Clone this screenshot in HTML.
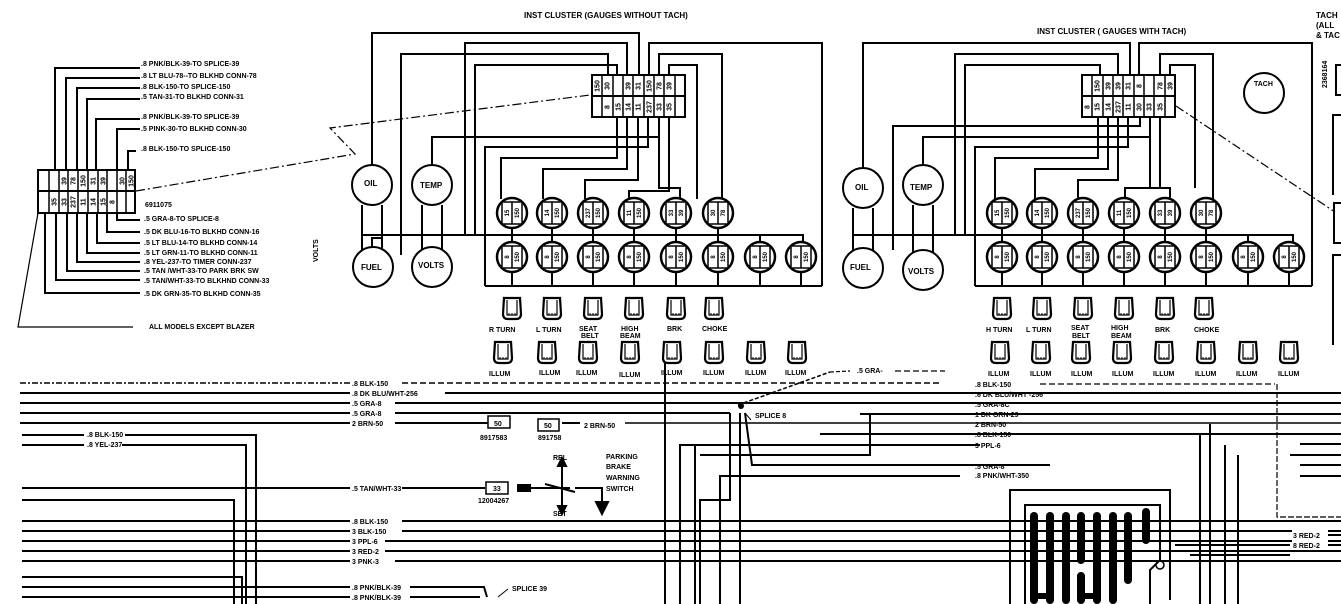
<!DOCTYPE html>
<html><head><meta charset="utf-8"><style>
html,body{margin:0;padding:0;background:#fff;}
svg{display:block;}
text{font-family:"Liberation Sans",sans-serif;font-weight:bold;fill:#000;}
.s{font-size:7px;}
.m{font-size:8px;}
.c{font-size:7px;text-anchor:middle;}
.b{font-size:6px;text-anchor:middle;}
</style></head><body>
<svg width="1341" height="604" viewBox="0 0 1341 604" xmlns="http://www.w3.org/2000/svg">
<defs>
<g id="bulb"><circle r="15" fill="#fff" stroke="#000" stroke-width="2.5"/><rect x="-10" y="-11" width="20" height="22" fill="#fff" stroke="#000" stroke-width="1.5"/><line x1="0" y1="-11" x2="0" y2="11" stroke="#000" stroke-width="1.5"/></g>
<g id="sock"><path d="M-8,-10 L8,-10 L9,6 Q9,11 4,11 L-4,11 Q-9,11 -9,6 Z" fill="#fff" stroke="#000" stroke-width="2.2"/><path d="M-5,-8 L-5,7 L5,7 L5,-8" fill="none" stroke="#000" stroke-width="1.2"/><path d="M-3,7 v-2 M0,7 v-2 M3,7 v-2" stroke="#000" stroke-width="1"/></g>
</defs>
<g fill="none" stroke="#000" stroke-width="2">

<!-- ===== LEFT CONNECTOR ===== -->
<rect x="38" y="170" width="97" height="43" stroke-width="2"/>
<line x1="38" y1="191" x2="135" y2="191"/>
<g stroke-width="1.5">
<line x1="49" y1="170" x2="49" y2="213"/><line x1="59" y1="170" x2="59" y2="213"/><line x1="68" y1="170" x2="68" y2="213"/><line x1="78" y1="170" x2="78" y2="213"/><line x1="88" y1="170" x2="88" y2="213"/><line x1="98" y1="170" x2="98" y2="213"/><line x1="107" y1="170" x2="107" y2="213"/><line x1="117" y1="170" x2="117" y2="213"/><line x1="126" y1="170" x2="126" y2="213"/>
</g>
<path d="M55,170 V68 H140"/><path d="M66,170 V78 H140"/><path d="M77,170 V88 H140"/><path d="M87,170 V99 H140"/><path d="M96,170 V119 H140"/><path d="M117,170 V129 H140"/><path d="M128,170 V151 H136"/>
<path d="M117,213 V220 H140"/><path d="M107,213 V232 H140"/><path d="M97,213 V243 H140"/><path d="M87,213 V253 H140"/><path d="M77,213 V262 H140"/><path d="M67,213 V271 H140"/><path d="M56,213 V280 H140"/><path d="M45,213 V293 H140"/>
<path d="M38,213 L18,327 H133" stroke-width="1.2"/>
<path d="M136,191 L355,154 L330,128 L590,95" stroke-width="1.2" stroke-dasharray="9,3,2,3"/>

<!-- ===== CLUSTER 1 ===== -->
<rect x="592" y="75" width="93" height="42"/>
<line x1="592" y1="96" x2="685" y2="96"/>
<g stroke-width="1.5"><line x1="602" y1="75" x2="602" y2="117"/><line x1="613" y1="75" x2="613" y2="117"/><line x1="623" y1="75" x2="623" y2="117"/><line x1="633" y1="75" x2="633" y2="117"/><line x1="644" y1="75" x2="644" y2="117"/><line x1="654" y1="75" x2="654" y2="117"/><line x1="664" y1="75" x2="664" y2="117"/><line x1="675" y1="75" x2="675" y2="117"/></g>
<circle cx="372" cy="185" r="20"/><circle cx="432" cy="185" r="20"/><circle cx="373" cy="267" r="20"/><circle cx="432" cy="267" r="20"/>
<path d="M372,165 V33 H639 V75"/>
<path d="M465,235 V43 H627 V75"/>
<path d="M401,255 V54 H608 V75"/>
<path d="M475,235 V65 H617 V75"/>
<path d="M649,75 V43 H822 V286"/>
<path d="M659,75 V54 H722 V199"/><path d="M669,75 V65 H697 V199"/>
<path d="M432,165 V137 H659 V117"/>
<path d="M485,286 V147 H648 V117"/>
<path d="M501,199 V158 H617 V117"/>
<path d="M543,199 V169 H627 V117"/>
<path d="M585,199 V180 H638 V117"/>
<path d="M629,199 V191 H669 V117"/>
<path d="M659,117 V188 H680 V199"/>
<path d="M362,235 H803 V243"/>
<line x1="362" y1="205" x2="362" y2="250"/><line x1="382" y1="205" x2="382" y2="250"/>
<line x1="422" y1="205" x2="422" y2="250"/><line x1="442" y1="205" x2="442" y2="250"/>
<path d="M372,247 V238 H383"/>
<path d="M485,286 H822"/>
<line x1="512" y1="228" x2="512" y2="242"/><line x1="552" y1="228" x2="552" y2="242"/><line x1="593" y1="228" x2="593" y2="242"/><line x1="634" y1="228" x2="634" y2="242"/><line x1="676" y1="228" x2="676" y2="242"/><line x1="718" y1="228" x2="718" y2="242"/><line x1="760" y1="235" x2="760" y2="242"/>
<line x1="512" y1="272" x2="512" y2="286"/><line x1="552" y1="272" x2="552" y2="286"/><line x1="593" y1="272" x2="593" y2="286"/><line x1="634" y1="272" x2="634" y2="286"/><line x1="676" y1="272" x2="676" y2="286"/><line x1="718" y1="272" x2="718" y2="286"/><line x1="760" y1="272" x2="760" y2="286"/><line x1="801" y1="272" x2="801" y2="286"/>

<!-- ===== CLUSTER 2 ===== -->
<rect x="1082" y="75" width="93" height="42"/>
<line x1="1082" y1="96" x2="1175" y2="96"/>
<g stroke-width="1.5"><line x1="1092" y1="75" x2="1092" y2="117"/><line x1="1103" y1="75" x2="1103" y2="117"/><line x1="1113" y1="75" x2="1113" y2="117"/><line x1="1123" y1="75" x2="1123" y2="117"/><line x1="1134" y1="75" x2="1134" y2="117"/><line x1="1144" y1="75" x2="1144" y2="117"/><line x1="1154" y1="75" x2="1154" y2="117"/><line x1="1165" y1="75" x2="1165" y2="117"/></g>
<circle cx="863" cy="188" r="20"/><circle cx="923" cy="185" r="20"/><circle cx="863" cy="268" r="20"/><circle cx="923" cy="270" r="20"/>
<circle cx="1264" cy="93" r="20"/>
<path d="M863,168 V43 H1130 V75"/>
<path d="M955,235 V54 H1118 V75"/>
<path d="M965,235 V65 H1100 V75"/>
<path d="M1139,75 V43 H1312 V286"/>
<path d="M1160,75 V54 H1213 V199"/><path d="M1170,75 V65 H1195 V188"/>
<path d="M893,250 V126 H1140 V117"/>
<path d="M923,165 V137 H1150 V117"/>
<path d="M975,286 V147 H1128 V117"/>
<path d="M995,199 V158 H1098 V117"/>
<path d="M1035,199 V169 H1108 V117"/>
<path d="M1078,199 V180 H1118 V117"/>
<path d="M1125,199 V188 H1160 V117"/>
<path d="M1150,117 V188 H1170 V199"/>
<path d="M853,235 H1293 V243"/>
<line x1="853" y1="208" x2="853" y2="250"/><line x1="873" y1="208" x2="873" y2="250"/>
<line x1="913" y1="205" x2="913" y2="252"/><line x1="933" y1="205" x2="933" y2="252"/>
<path d="M975,286 H1312"/>
<line x1="1002" y1="228" x2="1002" y2="242"/><line x1="1042" y1="228" x2="1042" y2="242"/><line x1="1083" y1="228" x2="1083" y2="242"/><line x1="1124" y1="228" x2="1124" y2="242"/><line x1="1165" y1="228" x2="1165" y2="242"/><line x1="1206" y1="228" x2="1206" y2="242"/><line x1="1248" y1="235" x2="1248" y2="242"/>
<line x1="1002" y1="272" x2="1002" y2="286"/><line x1="1042" y1="272" x2="1042" y2="286"/><line x1="1083" y1="272" x2="1083" y2="286"/><line x1="1124" y1="272" x2="1124" y2="286"/><line x1="1165" y1="272" x2="1165" y2="286"/><line x1="1206" y1="272" x2="1206" y2="286"/><line x1="1248" y1="272" x2="1248" y2="286"/><line x1="1289" y1="272" x2="1289" y2="286"/>
<path d="M1176,106 L1335,212" stroke-width="1.2" stroke-dasharray="9,3,2,3"/>
<rect x="1334" y="203" width="12" height="40"/>
<rect x="1336" y="65" width="10" height="30"/>
<path d="M1341,115 H1333 V195"/><path d="M1341,255 H1333 V345"/>

<!-- ===== BOTTOM LEFT WIRES ===== -->
<line x1="20" y1="383" x2="350" y2="383" stroke-width="1.5" stroke-dasharray="6,2,2,2"/>
<line x1="402" y1="383" x2="940" y2="383" stroke-width="1.5" stroke-dasharray="6,3"/>
<line x1="20" y1="393" x2="350" y2="393"/><line x1="445" y1="393" x2="1341" y2="393"/>
<line x1="20" y1="403" x2="350" y2="403"/><line x1="395" y1="403" x2="1341" y2="403"/>
<line x1="20" y1="413" x2="350" y2="413"/><line x1="395" y1="413" x2="730" y2="413"/>
<line x1="20" y1="423" x2="350" y2="423"/><line x1="395" y1="423" x2="488" y2="423"/><line x1="562" y1="423" x2="580" y2="423"/><line x1="625" y1="423" x2="1341" y2="423" stroke-width="1.5"/>
<line x1="22" y1="435" x2="84" y2="435"/><path d="M125,435 H256 V604"/>
<line x1="22" y1="445" x2="84" y2="445"/><path d="M122,445 H246 V604"/>
<line x1="22" y1="488" x2="350" y2="488"/><line x1="402" y1="488" x2="485" y2="488"/>
<path d="M22,500 H234 V604"/>
<line x1="22" y1="521" x2="350" y2="521"/><line x1="402" y1="521" x2="1341" y2="521"/>
<line x1="22" y1="531" x2="350" y2="531"/><line x1="402" y1="531" x2="1341" y2="531"/>
<line x1="22" y1="541" x2="350" y2="541"/><line x1="385" y1="541" x2="1341" y2="541"/>
<line x1="22" y1="551" x2="350" y2="551"/><line x1="385" y1="551" x2="1341" y2="551"/>
<line x1="22" y1="561" x2="350" y2="561"/><line x1="395" y1="561" x2="1341" y2="561"/>
<path d="M22,577 H242 V604"/>
<line x1="22" y1="587" x2="350" y2="587"/><path d="M410,587 H484 L487,597"/>
<line x1="22" y1="597" x2="350" y2="597"/><line x1="410" y1="597" x2="480" y2="597"/>
<path d="M508,589 L498,597" stroke-width="1"/>
<path d="M665,604 V360"/><path d="M680,604 V445 H980"/><path d="M695,604 V445"/>
<path d="M700,604 V500 H730 V413"/>
<path d="M740,604 V413"/><path d="M745,413 L752,465 H1050"/>
<path d="M720,604 V476 H960"/>
<line x1="738" y1="405" x2="830" y2="372" stroke-dasharray="4,2" stroke-width="1.5"/>
<line x1="830" y1="372" x2="850" y2="371" stroke-dasharray="4,2" stroke-width="1.2"/>
<line x1="895" y1="371" x2="945" y2="371" stroke-dasharray="6,3" stroke-width="1.2"/>
<path d="M745,413 L751,420" stroke-width="1"/>
<line x1="860" y1="414" x2="1341" y2="414"/><path d="M870,414 V455 H700"/>
<line x1="820" y1="434" x2="1341" y2="434"/>
<line x1="1040" y1="384" x2="1275" y2="384" stroke-dasharray="6,3" stroke-width="1.2"/>
<path d="M1277,384 V517 H1341" stroke-dasharray="6,2" stroke-width="1.2"/>
<rect x="488" y="416" width="22" height="12" stroke-width="1.5"/>
<rect x="538" y="419" width="21" height="12" stroke-width="1.5"/>
<rect x="486" y="482" width="22" height="12" stroke-width="1.5"/>
<path d="M518,488 H570 M562,463 V510 M545,484 L575,492 M575,488 H602 V505" stroke-width="2"/>
<path d="M558,466 L562,458 L566,466Z M558,506 L562,514 L566,506Z M596,502 H608 L602,514Z" fill="#000"/>
<rect x="518" y="485" width="12" height="6" fill="#000"/>
<path d="M1010,604 V490 H1170 V600"/>
<path d="M1025,604 V505 H1160 V560 L1150,570 V604"/>
<path d="M1200,434 V604"/><path d="M1210,424 V604"/><path d="M1225,445 V604"/><path d="M1238,455 V604"/>
<path d="M1175,545 H1290"/><path d="M1190,555 H1290"/>
<path d="M1300,535 H1341 M1300,545 H1341"/>
<path d="M1300,444 H1341 M1300,476 H1341 M1300,465 H1341 M1290,455 H1341"/>
<circle cx="1160" cy="565" r="4" stroke-width="1.5"/>
</g>
<!-- pin blobs -->
<g stroke="#000" stroke-linecap="round" stroke-width="8" fill="none">
<path d="M1034,516 V600"/><path d="M1050,516 V600"/><path d="M1066,516 V600"/><path d="M1081,516 V560 M1081,576 V600"/><path d="M1097,516 V600"/><path d="M1113,516 V600"/><path d="M1128,516 V580"/><path d="M1146,512 V540"/>
<path d="M1034,596 H1050 M1081,596 H1097" stroke-width="6"/>
</g>
<circle cx="741" cy="406" r="3" fill="#000"/>

<!-- bulbs cluster 1 -->
<use href="#bulb" x="512" y="213"/><use href="#bulb" x="552" y="213"/><use href="#bulb" x="593" y="213"/><use href="#bulb" x="634" y="213"/><use href="#bulb" x="676" y="213"/><use href="#bulb" x="718" y="213"/>
<use href="#bulb" x="512" y="257"/><use href="#bulb" x="552" y="257"/><use href="#bulb" x="593" y="257"/><use href="#bulb" x="634" y="257"/><use href="#bulb" x="676" y="257"/><use href="#bulb" x="718" y="257"/><use href="#bulb" x="760" y="257"/><use href="#bulb" x="801" y="257"/>
<use href="#sock" x="512" y="308"/><use href="#sock" x="552" y="308"/><use href="#sock" x="593" y="308"/><use href="#sock" x="634" y="308"/><use href="#sock" x="676" y="308"/><use href="#sock" x="714" y="308"/>
<use href="#sock" x="503" y="352"/><use href="#sock" x="547" y="352"/><use href="#sock" x="588" y="352"/><use href="#sock" x="630" y="352"/><use href="#sock" x="672" y="352"/><use href="#sock" x="714" y="352"/><use href="#sock" x="756" y="352"/><use href="#sock" x="797" y="352"/>
<!-- bulbs cluster 2 -->
<use href="#bulb" x="1002" y="213"/><use href="#bulb" x="1042" y="213"/><use href="#bulb" x="1083" y="213"/><use href="#bulb" x="1124" y="213"/><use href="#bulb" x="1165" y="213"/><use href="#bulb" x="1206" y="213"/>
<use href="#bulb" x="1002" y="257"/><use href="#bulb" x="1042" y="257"/><use href="#bulb" x="1083" y="257"/><use href="#bulb" x="1124" y="257"/><use href="#bulb" x="1165" y="257"/><use href="#bulb" x="1206" y="257"/><use href="#bulb" x="1248" y="257"/><use href="#bulb" x="1289" y="257"/>
<use href="#sock" x="1002" y="308"/><use href="#sock" x="1042" y="308"/><use href="#sock" x="1083" y="308"/><use href="#sock" x="1124" y="308"/><use href="#sock" x="1165" y="308"/><use href="#sock" x="1204" y="308"/>
<use href="#sock" x="1000" y="352"/><use href="#sock" x="1041" y="352"/><use href="#sock" x="1081" y="352"/><use href="#sock" x="1122" y="352"/><use href="#sock" x="1164" y="352"/><use href="#sock" x="1206" y="352"/><use href="#sock" x="1248" y="352"/><use href="#sock" x="1289" y="352"/>

<!-- connector cell numbers: left connector -->
<g class="c">
<text class="c" transform="translate(64,181) rotate(-90)" dy="2.5">39</text>
<text class="c" transform="translate(73,181) rotate(-90)" dy="2.5">78</text>
<text class="c" transform="translate(83,181) rotate(-90)" dy="2.5">150</text>
<text class="c" transform="translate(93,181) rotate(-90)" dy="2.5">31</text>
<text class="c" transform="translate(103,181) rotate(-90)" dy="2.5">39</text>
<text class="c" transform="translate(122,181) rotate(-90)" dy="2.5">30</text>
<text class="c" transform="translate(131,181) rotate(-90)" dy="2.5">150</text>
<text class="c" transform="translate(54,202) rotate(-90)" dy="2.5">35</text>
<text class="c" transform="translate(64,202) rotate(-90)" dy="2.5">33</text>
<text class="c" transform="translate(73,202) rotate(-90)" dy="2.5">237</text>
<text class="c" transform="translate(83,202) rotate(-90)" dy="2.5">11</text>
<text class="c" transform="translate(93,202) rotate(-90)" dy="2.5">14</text>
<text class="c" transform="translate(103,202) rotate(-90)" dy="2.5">15</text>
<text class="c" transform="translate(112,202) rotate(-90)" dy="2.5">8</text>
</g>
<!-- cluster 1 connector -->
<text class="c" transform="translate(597,86) rotate(-90)" dy="2.5">150</text>
<text class="c" transform="translate(607,86) rotate(-90)" dy="2.5">30</text>
<text class="c" transform="translate(628,86) rotate(-90)" dy="2.5">39</text>
<text class="c" transform="translate(638,86) rotate(-90)" dy="2.5">31</text>
<text class="c" transform="translate(649,86) rotate(-90)" dy="2.5">150</text>
<text class="c" transform="translate(659,86) rotate(-90)" dy="2.5">78</text>
<text class="c" transform="translate(669,86) rotate(-90)" dy="2.5">39</text>
<text class="c" transform="translate(607,107) rotate(-90)" dy="2.5">8</text>
<text class="c" transform="translate(618,107) rotate(-90)" dy="2.5">15</text>
<text class="c" transform="translate(628,107) rotate(-90)" dy="2.5">14</text>
<text class="c" transform="translate(638,107) rotate(-90)" dy="2.5">11</text>
<text class="c" transform="translate(649,107) rotate(-90)" dy="2.5">237</text>
<text class="c" transform="translate(659,107) rotate(-90)" dy="2.5">33</text>
<text class="c" transform="translate(669,107) rotate(-90)" dy="2.5">35</text>
<!-- cluster 2 connector -->
<text class="c" transform="translate(1097,86) rotate(-90)" dy="2.5">150</text>
<text class="c" transform="translate(1108,86) rotate(-90)" dy="2.5">39</text>
<text class="c" transform="translate(1118,86) rotate(-90)" dy="2.5">39</text>
<text class="c" transform="translate(1128,86) rotate(-90)" dy="2.5">31</text>
<text class="c" transform="translate(1139,86) rotate(-90)" dy="2.5">8</text>
<text class="c" transform="translate(1160,86) rotate(-90)" dy="2.5">78</text>
<text class="c" transform="translate(1170,86) rotate(-90)" dy="2.5">39</text>
<text class="c" transform="translate(1087,107) rotate(-90)" dy="2.5">8</text>
<text class="c" transform="translate(1097,107) rotate(-90)" dy="2.5">15</text>
<text class="c" transform="translate(1108,107) rotate(-90)" dy="2.5">14</text>
<text class="c" transform="translate(1118,107) rotate(-90)" dy="2.5">237</text>
<text class="c" transform="translate(1128,107) rotate(-90)" dy="2.5">11</text>
<text class="c" transform="translate(1139,107) rotate(-90)" dy="2.5">30</text>
<text class="c" transform="translate(1149,107) rotate(-90)" dy="2.5">33</text>
<text class="c" transform="translate(1160,107) rotate(-90)" dy="2.5">35</text>
<!-- bulb numbers cluster 1 -->
<text class="b" transform="translate(507,213) rotate(-90)" dy="2">15</text><text class="b" transform="translate(517,213) rotate(-90)" dy="2">150</text>
<text class="b" transform="translate(547,213) rotate(-90)" dy="2">14</text><text class="b" transform="translate(557,213) rotate(-90)" dy="2">150</text>
<text class="b" transform="translate(588,213) rotate(-90)" dy="2">237</text><text class="b" transform="translate(598,213) rotate(-90)" dy="2">150</text>
<text class="b" transform="translate(629,213) rotate(-90)" dy="2">11</text><text class="b" transform="translate(639,213) rotate(-90)" dy="2">150</text>
<text class="b" transform="translate(671,213) rotate(-90)" dy="2">33</text><text class="b" transform="translate(681,213) rotate(-90)" dy="2">39</text>
<text class="b" transform="translate(713,213) rotate(-90)" dy="2">30</text><text class="b" transform="translate(723,213) rotate(-90)" dy="2">78</text>
<text class="b" transform="translate(507,257) rotate(-90)" dy="2">8</text><text class="b" transform="translate(517,257) rotate(-90)" dy="2">150</text>
<text class="b" transform="translate(547,257) rotate(-90)" dy="2">8</text><text class="b" transform="translate(557,257) rotate(-90)" dy="2">150</text>
<text class="b" transform="translate(588,257) rotate(-90)" dy="2">8</text><text class="b" transform="translate(598,257) rotate(-90)" dy="2">150</text>
<text class="b" transform="translate(629,257) rotate(-90)" dy="2">8</text><text class="b" transform="translate(639,257) rotate(-90)" dy="2">150</text>
<text class="b" transform="translate(671,257) rotate(-90)" dy="2">8</text><text class="b" transform="translate(681,257) rotate(-90)" dy="2">150</text>
<text class="b" transform="translate(713,257) rotate(-90)" dy="2">8</text><text class="b" transform="translate(723,257) rotate(-90)" dy="2">150</text>
<text class="b" transform="translate(755,257) rotate(-90)" dy="2">8</text><text class="b" transform="translate(765,257) rotate(-90)" dy="2">150</text>
<text class="b" transform="translate(796,257) rotate(-90)" dy="2">8</text><text class="b" transform="translate(806,257) rotate(-90)" dy="2">150</text>
<!-- bulb numbers cluster 2 -->
<text class="b" transform="translate(997,213) rotate(-90)" dy="2">15</text><text class="b" transform="translate(1007,213) rotate(-90)" dy="2">150</text>
<text class="b" transform="translate(1037,213) rotate(-90)" dy="2">14</text><text class="b" transform="translate(1047,213) rotate(-90)" dy="2">150</text>
<text class="b" transform="translate(1078,213) rotate(-90)" dy="2">237</text><text class="b" transform="translate(1088,213) rotate(-90)" dy="2">150</text>
<text class="b" transform="translate(1119,213) rotate(-90)" dy="2">11</text><text class="b" transform="translate(1129,213) rotate(-90)" dy="2">150</text>
<text class="b" transform="translate(1160,213) rotate(-90)" dy="2">33</text><text class="b" transform="translate(1170,213) rotate(-90)" dy="2">39</text>
<text class="b" transform="translate(1201,213) rotate(-90)" dy="2">30</text><text class="b" transform="translate(1211,213) rotate(-90)" dy="2">78</text>
<text class="b" transform="translate(997,257) rotate(-90)" dy="2">8</text><text class="b" transform="translate(1007,257) rotate(-90)" dy="2">150</text>
<text class="b" transform="translate(1037,257) rotate(-90)" dy="2">8</text><text class="b" transform="translate(1047,257) rotate(-90)" dy="2">150</text>
<text class="b" transform="translate(1078,257) rotate(-90)" dy="2">8</text><text class="b" transform="translate(1088,257) rotate(-90)" dy="2">150</text>
<text class="b" transform="translate(1119,257) rotate(-90)" dy="2">8</text><text class="b" transform="translate(1129,257) rotate(-90)" dy="2">150</text>
<text class="b" transform="translate(1160,257) rotate(-90)" dy="2">8</text><text class="b" transform="translate(1170,257) rotate(-90)" dy="2">150</text>
<text class="b" transform="translate(1201,257) rotate(-90)" dy="2">8</text><text class="b" transform="translate(1211,257) rotate(-90)" dy="2">150</text>
<text class="b" transform="translate(1243,257) rotate(-90)" dy="2">8</text><text class="b" transform="translate(1253,257) rotate(-90)" dy="2">150</text>
<text class="b" transform="translate(1284,257) rotate(-90)" dy="2">8</text><text class="b" transform="translate(1294,257) rotate(-90)" dy="2">150</text>

<!-- ===== TEXT ===== -->
<text class="m" x="524" y="18">INST CLUSTER (GAUGES WITHOUT  TACH)</text>
<text class="m" x="1037" y="34">INST CLUSTER    ( GAUGES WITH  TACH)</text>
<text class="m" x="1316" y="18">TACH</text><text class="m" x="1316" y="28">(ALL</text><text class="m" x="1316" y="38">&amp; TAC</text>
<text class="s" x="141" y="66">.8 PNK/BLK-39-TO SPLICE-39</text>
<text class="s" x="141" y="78">.8 LT BLU-78--TO BLKHD CONN-78</text>
<text class="s" x="141" y="89">.8 BLK-150-TO SPLICE-150</text>
<text class="s" x="141" y="99">.5 TAN-31-TO BLKHD CONN-31</text>
<text class="s" x="141" y="119">.8 PNK/BLK-39-TO SPLICE-39</text>
<text class="s" x="141" y="131">.5 PINK-30-TO BLKHD CONN-30</text>
<text class="s" x="141" y="151">.8 BLK-150-TO SPLICE-150</text>
<text class="s" x="145" y="207" font-size="6">6911075</text>
<text class="s" x="144" y="221">.5 GRA-8-TO SPLICE-8</text>
<text class="s" x="144" y="234">.5 DK BLU-16-TO BLKHD CONN-16</text>
<text class="s" x="144" y="245">.5 LT BLU-14-TO BLKHD CONN-14</text>
<text class="s" x="144" y="255">.5 LT GRN-11-TO BLKHD CONN-11</text>
<text class="s" x="144" y="264">.8 YEL-237-TO TIMER CONN-237</text>
<text class="s" x="144" y="273">.5 TAN /WHT-33-TO PARK BRK SW</text>
<text class="s" x="144" y="283">.5 TAN/WHT-33-TO BLKHND CONN-33</text>
<text class="s" x="144" y="296">.5 DK GRN-35-TO BLKHD CONN-35</text>
<text class="s" x="149" y="329">ALL MODELS EXCEPT BLAZER</text>
<text class="s" transform="translate(318,262) rotate(-90)">VOLTS</text>
<text class="m" x="364" y="186">OIL</text><text class="m" x="420" y="188">TEMP</text>
<text class="m" x="361" y="270">FUEL</text><text class="m" x="418" y="268">VOLTS</text>
<text class="m" x="855" y="190">OIL</text><text class="m" x="910" y="190">TEMP</text>
<text class="m" x="850" y="270">FUEL</text><text class="m" x="908" y="274">VOLTS</text>
<text class="s" x="1254" y="86">TACH</text>
<text class="s" x="489" y="332">R TURN</text><text class="s" x="536" y="332">L TURN</text><text class="s" x="579" y="331">SEAT</text><text class="s" x="581" y="338">BELT</text><text class="s" x="621" y="331">HIGH</text><text class="s" x="620" y="338">BEAM</text><text class="s" x="667" y="331">BRK</text><text class="s" x="702" y="331">CHOKE</text>
<text class="s" x="489" y="376">ILLUM</text><text class="s" x="539" y="375">ILLUM</text><text class="s" x="576" y="375">ILLUM</text><text class="s" x="619" y="377">ILLUM</text><text class="s" x="661" y="375">ILLUM</text><text class="s" x="703" y="375">ILLUM</text><text class="s" x="745" y="375">ILLUM</text><text class="s" x="785" y="375">ILLUM</text>
<text class="s" x="986" y="332">H TURN</text><text class="s" x="1026" y="332">L TURN</text><text class="s" x="1071" y="330">SEAT</text><text class="s" x="1072" y="338">BELT</text><text class="s" x="1111" y="330">HIGH</text><text class="s" x="1111" y="338">BEAM</text><text class="s" x="1155" y="332">BRK</text><text class="s" x="1194" y="332">CHOKE</text>
<text class="s" x="988" y="376">ILLUM</text><text class="s" x="1030" y="376">ILLUM</text><text class="s" x="1071" y="376">ILLUM</text><text class="s" x="1112" y="376">ILLUM</text><text class="s" x="1153" y="376">ILLUM</text><text class="s" x="1195" y="376">ILLUM</text><text class="s" x="1236" y="376">ILLUM</text><text class="s" x="1278" y="376">ILLUM</text>
<text class="s" x="352" y="386">.8 BLK-150</text>
<text class="s" x="352" y="396">.8 DK BLU/WHT-256</text>
<text class="s" x="352" y="406">.5 GRA-8</text>
<text class="s" x="352" y="416">.5 GRA-8</text>
<text class="s" x="352" y="426">2 BRN-50</text>
<text class="s" x="87" y="437">.8 BLK-150</text>
<text class="s" x="87" y="447">.8 YEL-237</text>
<text class="s" x="352" y="491">.5 TAN/WHT-33</text>
<text class="s" x="352" y="524">.8 BLK-150</text>
<text class="s" x="352" y="534">3 BLK-150</text>
<text class="s" x="352" y="544">3 PPL-6</text>
<text class="s" x="352" y="554">3 RED-2</text>
<text class="s" x="352" y="564">3 PNK-3</text>
<text class="s" x="352" y="590">.8 PNK/BLK-39</text>
<text class="s" x="352" y="600">.8 PNK/BLK-39</text>
<text class="s" x="512" y="591">SPLICE 39</text>
<text class="s" x="494" y="426">50</text><text class="s" x="544" y="428">50</text>
<text class="s" x="480" y="440">8917583</text><text class="s" x="538" y="440">891758</text>
<text class="s" x="584" y="428">2 BRN-50</text>
<text class="s" x="493" y="491">33</text>
<text class="s" x="478" y="503" font-size="6">12004267</text>
<text class="s" x="553" y="460">REL</text><text class="s" x="553" y="516">SET</text>
<text class="s" x="606" y="459">PARKING</text><text class="s" x="606" y="469">BRAKE</text><text class="s" x="606" y="480">WARNING</text><text class="s" x="606" y="491">SWITCH</text>
<text class="s" x="755" y="418">SPLICE 8</text>
<text class="s" x="857" y="373">.5 GRA-</text>
<text class="s" x="975" y="387">.8 BLK-150</text>
<text class="s" x="975" y="397">.6 DK BLU/WHT -256</text>
<text class="s" x="975" y="407">.5 GRA-8C</text>
<text class="s" x="975" y="417">1 DK GRN-29</text>
<text class="s" x="975" y="427">2 BRN-50</text>
<text class="s" x="975" y="437">.8 BLK-150</text>
<text class="s" x="975" y="448">3 PPL-6</text>
<text class="s" x="975" y="469">.5 GRA-8</text>
<text class="s" x="975" y="478">.8 PNK/WHT-350</text>
<rect x="1292" y="530" width="36" height="20" fill="#fff"/>
<text class="s" x="1293" y="538">3 RED-2</text>
<text class="s" x="1293" y="548">8 RED-2</text>
<text class="s" transform="translate(1327,88) rotate(-90)" font-size="6">2368164</text>
</svg>
</body></html>
